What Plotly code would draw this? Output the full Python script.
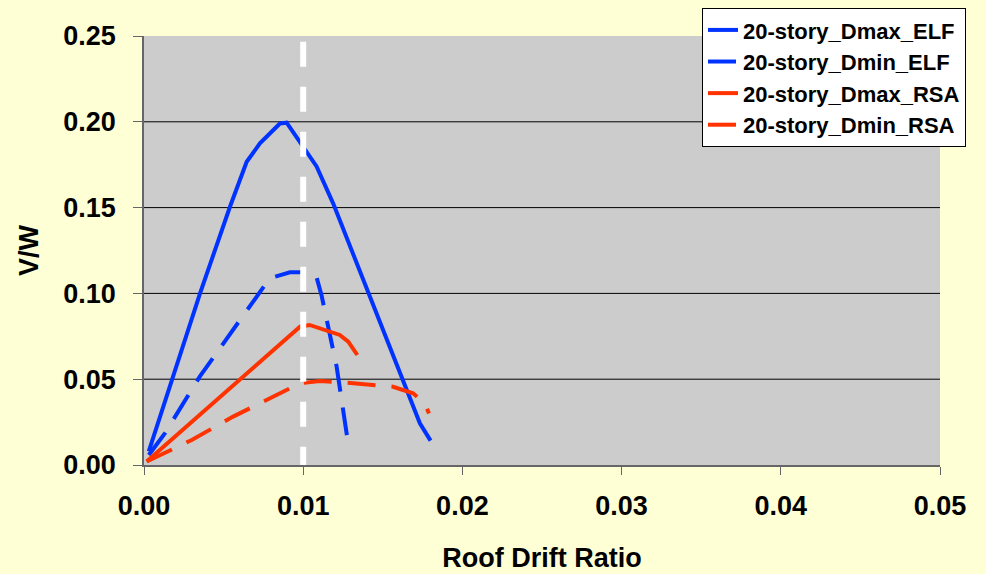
import plotly.graph_objects as go

# ---- data ----
dmax_elf_x = [0.0003, 0.00184, 0.00352, 0.0054, 0.00645, 0.00728, 0.00854, 0.00896, 0.0100, 0.01084, 0.01188, 0.01419, 0.01628, 0.01733, 0.0180]
dmax_elf_y = [0.008, 0.0515, 0.100, 0.1505, 0.1767, 0.1874, 0.199, 0.1995, 0.1855, 0.174, 0.1525, 0.098, 0.0495, 0.0243, 0.0142]

dmin_elf_x = [0.0003, 0.00132, 0.0035, 0.0052, 0.00686, 0.0079, 0.00917, 0.0102, 0.01084, 0.01115, 0.0121, 0.01289]
dmin_elf_y = [0.0058, 0.0186, 0.0515, 0.0738, 0.096, 0.1088, 0.1123, 0.1123, 0.1094, 0.099, 0.0573, 0.0084]

dmax_rsa_x = [0.00017, 0.0098, 0.0104, 0.0123, 0.01283, 0.0134]
dmax_rsa_y = [0.002, 0.0806, 0.0816, 0.0758, 0.0719, 0.0641]

dmin_rsa_x = [0.00017, 0.003, 0.0056, 0.00833, 0.0098, 0.01105, 0.0127, 0.01565, 0.0169, 0.01764, 0.0179]
dmin_rsa_y = [0.002, 0.0146, 0.0282, 0.0408, 0.0476, 0.049, 0.048, 0.0456, 0.0418, 0.036, 0.030]

ref_x = [0.01, 0.01]
ref_y = [-0.004, 0.25]

x_ticks = [0.00, 0.01, 0.02, 0.03, 0.04, 0.05]
y_ticks = [0.00, 0.05, 0.10, 0.15, 0.20, 0.25]
grid_y = [0.05, 0.10, 0.15, 0.20]

series = [
    ("20-story_Dmax_ELF", dmax_elf_x, dmax_elf_y, "#0033FF", "solid"),
    ("20-story_Dmin_ELF", dmin_elf_x, dmin_elf_y, "#0033FF", "28px,16px"),
    ("20-story_Dmax_RSA", dmax_rsa_x, dmax_rsa_y, "#FF3300", "solid"),
    ("20-story_Dmin_RSA", dmin_rsa_x, dmin_rsa_y, "#FF3300", "28px,16px"),
]

FONT = "Liberation Sans, Arial, sans-serif"
BG = "#FFFFD6"

fig = go.Figure()
for name, xs, ys, col, dash in series:
    fig.add_trace(go.Scatter(x=xs, y=ys, mode="lines", name=name,
                             line=dict(color=col, width=4, dash=dash)))

fig.add_trace(go.Scatter(x=ref_x, y=ref_y, mode="lines", showlegend=False,
                         hoverinfo="skip",
                         line=dict(color="white", width=6, dash="25px,20px")))

for gy in grid_y:
    fig.add_shape(type="line", xref="paper", x0=0, x1=1, yref="y", y0=gy, y1=gy,
                  line=dict(color="black", width=1), layer="below")

fig.update_layout(
    width=986, height=574,
    margin=dict(l=144, r=46, t=36, b=109, autoexpand=False),
    paper_bgcolor=BG,
    plot_bgcolor="#CCCCCC",
    font=dict(family=FONT, color="black", weight="bold"),
    legend=dict(
        x=0.701, y=1.065, xanchor="left", yanchor="top",
        bgcolor="white", bordercolor="black", borderwidth=1,
        font=dict(family=FONT, size=22, color="black", weight="bold"),
        tracegroupgap=0,
    ),
    xaxis=dict(
        range=[0, 0.05], tickvals=x_ticks, ticktext=[f"{v:.2f}" for v in x_ticks],
        showgrid=False, zeroline=False, automargin=False,
        showline=True, linecolor="#666666", linewidth=1.5,
        ticks="outside", ticklen=8, tickcolor="#666666",
        ticklabelstandoff=8,
        tickfont=dict(family=FONT, size=27, weight="bold"),
        title=dict(text="Roof Drift Ratio", standoff=28,
                   font=dict(family=FONT, size=27, weight="bold")),
    ),
    yaxis=dict(
        range=[0, 0.25], tickvals=y_ticks, ticktext=[f"{v:.2f}" for v in y_ticks],
        showgrid=False, zeroline=False, automargin=False,
        showline=True, linecolor="#666666", linewidth=1.5,
        ticks="outside", ticklen=9, tickcolor="#666666",
        ticklabelstandoff=12,
        tickfont=dict(family=FONT, size=27, weight="bold"),
        title=dict(text="V/W", standoff=17,
                   font=dict(family=FONT, size=27, weight="bold")),
    ),
)

fig.write_html(
    "out.html",
    config={"displayModeBar": False},
    post_script=f"document.body.style.margin='0';document.body.style.background='{BG}';",
)
